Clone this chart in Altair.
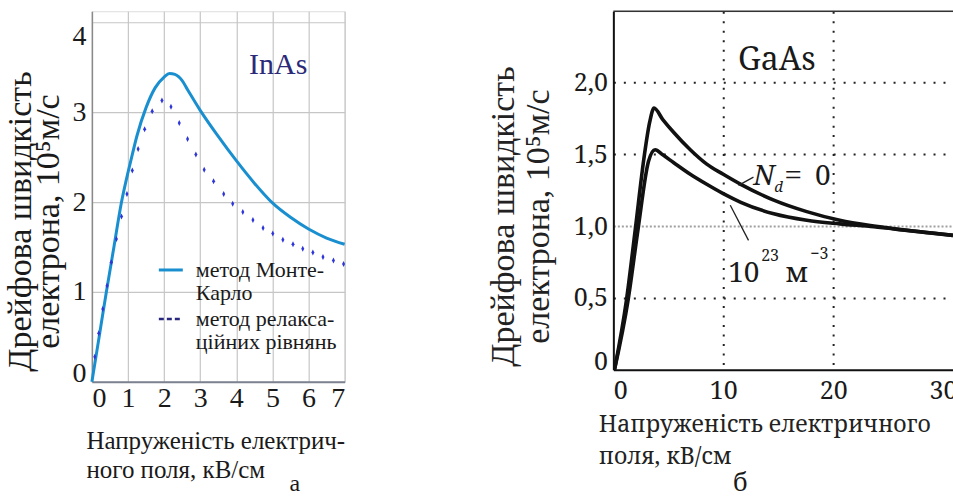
import altair as alt
import pandas as pd

# ---------------- data ----------------
# panel (а): InAs
mc_E = [0, 0.2, 0.4, 0.61, 0.82, 1.0, 1.09, 1.25, 1.5, 1.75, 2.0, 2.15, 2.3, 2.5,
        2.65, 3.0, 3.5, 4.0, 4.5, 5.0, 5.5, 6.0, 6.5, 7.0]
mc_v = [0, 0.5, 1.0, 1.5, 2.0, 2.33, 2.48, 2.74, 3.05, 3.27, 3.39, 3.43, 3.42, 3.35,
        3.25, 3.02, 2.73, 2.46, 2.21, 1.99, 1.83, 1.70, 1.60, 1.53]
rel_E = [0.08, 0.19, 0.30, 0.42, 0.54, 0.68, 0.82, 0.97, 1.12, 1.28, 1.46, 1.67, 1.94,
         2.19, 2.42, 2.65, 2.88, 3.11, 3.37, 3.65, 3.90, 4.18, 4.46, 4.74, 5.01, 5.29,
         5.57, 5.84, 6.12, 6.40, 6.69, 6.97]
rel_v = [0.28, 0.54, 0.81, 1.07, 1.33, 1.59, 1.84, 2.09, 2.35, 2.59, 2.81, 3.01, 3.13,
         3.06, 2.88, 2.70, 2.53, 2.36, 2.23, 2.09, 1.98, 1.89, 1.80, 1.71, 1.65, 1.58,
         1.53, 1.48, 1.44, 1.39, 1.35, 1.31]
left_xticks = [0, 1, 2, 3, 4, 5, 6, 7]
left_yticks = [0, 1, 2, 3, 4]
legend_mc = ["метод Монте-", "Карло"]
legend_rel = ["метод релакса-", "ційних рівнянь"]
left_xtitle = ["Напруженість електрич-", "ного поля, кВ/см"]
ytitle = ["Дрейфова швидкість", "електрона, 10⁵м/с"]
inas_label = ["InAs"]
inas_pos = [5.16, 3.42]

# panel (б): GaAs
up_E = [0.1, 1.2, 2.0, 2.8, 3.3, 3.7, 4.5, 5.5, 7.0, 8.5, 10.0, 11.6, 14.6, 17.6,
        20.6, 23.7, 26.7, 30.9]
up_v = [0, 0.49, 0.98, 1.48, 1.72, 1.82, 1.74, 1.65, 1.53, 1.43, 1.36, 1.29, 1.18,
        1.10, 1.04, 1.0, 0.97, 0.935]
lo_E = [0.1, 1.35, 2.25, 3.2, 3.8, 4.5, 5.5, 7.0, 8.5, 10.0, 11.6, 14.6, 17.6, 20.6,
        23.7, 26.7, 30.9]
lo_v = [0, 0.49, 0.98, 1.45, 1.53, 1.495, 1.44, 1.36, 1.29, 1.225, 1.165, 1.085, 1.04,
        1.015, 0.995, 0.97, 0.935]
right_xticks = [0, 10, 20, 30]
right_yticks = [0, 0.5, 1.0, 1.5, 2.0]
right_xtitle = ["Напруженість електричного", "поля, кВ/см"]
# annotation texts and anchor points (data units)
ann_text = ["GaAs", "N", "d", "=", "0", "10", "23", "м", "−3"]
ann_E = [14.88, 12.73, 14.65, 15.6, 18.36, 10.45, 13.45, 15.64, 17.91]
ann_v = [2.083, 1.285, 1.236, 1.285, 1.285, 0.611, 0.757, 0.611, 0.771]
# leader lines: (E, v) -> (E2, v2)
lead_E = [11.39, 10.64]
lead_v = [1.283, 1.144]
lead_E2 = [12.75, 12.3]
lead_v2 = [1.34, 0.90]
captions = ["а", "б"]

# ---------------- styling ----------------
SERIF = "Liberation Serif"
CENT = "Noto Serif"
W1, H1 = 253, 371
W2, H2 = 340, 359
BLUE = "#1a8fd0"
DOTS = "#2f36d8"
NAVY = "#28287e"
INK = "#1a1a1a"

# ---------------- panel а ----------------
lx_scale = alt.Scale(domain=[0, 7], nice=False, zero=False)
ly_scale = alt.Scale(domain=[0, H1 / 90.0], nice=False)

lx = alt.X("E:Q", scale=lx_scale, axis=alt.Axis(
    values=left_xticks, format="d", grid=True, gridColor="#c6c6c6", gridWidth=1.2,
    domainColor="#7d8290", domainWidth=2, ticks=False,
    labelFont=SERIF, labelFontSize=28, labelColor=INK, labelPadding=3, labelFlush=True,
    title=left_xtitle, titleFont=SERIF, titleFontSize=25, titleFontWeight="normal",
    titleColor=INK, titleX=-6, titleY=67, titleAlign="left", titleAnchor="start",
    titleBaseline="alphabetic", titleLineHeight=29))
ly = alt.Y("v:Q", scale=ly_scale, axis=alt.Axis(
    values=left_yticks, format="d", grid=True, gridColor="#c6c6c6", gridWidth=1.2,
    domainColor="#8a8a8a", domainWidth=1.5, ticks=False,
    labelFont=SERIF, labelFontSize=28, labelColor=INK, labelPadding=6,
    labelBaseline={"condition": [{"test": "datum.value == 4", "value": "top"},
                                 {"test": "datum.value == 0", "value": "alphabetic"}],
                   "value": "middle"},
    title=ytitle, titleFont=SERIF, titleFontSize=34, titleFontWeight="normal",
    titleColor=INK, titleAngle=270, titleX=-61, titleY=210, titleAlign="center",
    titleBaseline="alphabetic", titleLineHeight=28))

mc_df = pd.DataFrame({"E": mc_E, "v": mc_v})
rel_df = pd.DataFrame({"E": rel_E, "v": rel_v})

mc_line = alt.Chart(mc_df).mark_line(color=BLUE, strokeWidth=3, interpolate="monotone").encode(x=lx, y=ly)
rel_pts = alt.Chart(rel_df).mark_point(
    shape="M0,-1L0.5,0L0,1L-0.5,0Z", filled=True, size=36, color=DOTS, opacity=1
).encode(x=lx, y=ly)

inas = alt.Chart(pd.DataFrame({"E": [inas_pos[0]], "v": [inas_pos[1]], "t": inas_label})).mark_text(
    font=SERIF, fontSize=30, color="#2b2a78", align="center", baseline="alphabetic"
).encode(x=lx, y=ly, text="t:N")

leg_df = pd.DataFrame({"k": [0]})
leg_line1 = alt.Chart(leg_df).mark_rule(color=BLUE, strokeWidth=3).encode(
    x=alt.value(67), x2=alt.value(91), y=alt.value(259))
leg_line2 = alt.Chart(leg_df).mark_rule(color=NAVY, strokeWidth=2.5, strokeDash=[5, 3]).encode(
    x=alt.value(67), x2=alt.value(90), y=alt.value(308))
leg_txt1 = alt.Chart(leg_df).mark_text(
    font=SERIF, fontSize=22, color=INK, align="left", baseline="alphabetic", lineHeight=23
).encode(x=alt.value(104), y=alt.value(266), text=alt.value(legend_mc))
leg_txt2 = alt.Chart(leg_df).mark_text(
    font=SERIF, fontSize=22, color=INK, align="left", baseline="alphabetic", lineHeight=23
).encode(x=alt.value(104), y=alt.value(315), text=alt.value(legend_rel))
cap_a = alt.Chart(pd.DataFrame({"t": [captions[0]]})).mark_text(
    font=SERIF, fontSize=24, color=INK, align="center", baseline="alphabetic"
).encode(x=alt.value(203), y=alt.value(480), text="t:N")

left = alt.layer(mc_line, rel_pts, inas, leg_line1, leg_line2, leg_txt1, leg_txt2, cap_a).properties(
    width=W1, height=H1)

# ---------------- panel б ----------------
rx_scale = alt.Scale(domain=[0, W2 / 11.0], nice=False, zero=False)
ry_scale = alt.Scale(domain=[0, H2 / 144.0], nice=False)

rx = alt.X("E:Q", scale=rx_scale, axis=alt.Axis(
    values=right_xticks, format="d", grid=True, gridColor="#222", gridWidth=2, gridDash=[2, 7.5],
    gridOpacity={"condition": {"test": "datum.value == 10 || datum.value == 20", "value": 1}, "value": 0},
    domainColor="#111", domainWidth=2, ticks=False,
    labelFont=CENT, labelFontSize=25, labelColor=INK, labelPadding=9,
    title=right_xtitle, titleFont=CENT, titleFontSize=23, titleFontWeight="normal",
    titleColor="#222", titleX=-15, titleY=62, titleAlign="left", titleAnchor="start",
    titleBaseline="alphabetic", titleLineHeight=32))
ry = alt.Y("v:Q", scale=ry_scale, axis=alt.Axis(
    values=right_yticks, grid=True, gridWidth=2,
    gridColor={"condition": {"test": "datum.value == 1", "value": "#a0a0a0"}, "value": "#222"},
    gridDash={"condition": {"test": "datum.value == 1", "value": [2, 2]}, "value": [2, 8]},
    gridOpacity={"condition": {"test": "datum.value == 0", "value": 0}, "value": 1},
    domainColor="#111", domainWidth=2, ticks=False,
    labelExpr="datum.value == 0 ? '0' : replace(format(datum.value, '.1f'), '.', ',')",
    labelFont=CENT, labelFontSize=25, labelColor=INK, labelPadding=6,
    labelBaseline={"condition": {"test": "datum.value == 0", "value": "alphabetic"}, "value": "middle"},
    title=ytitle, titleFont=SERIF, titleFontSize=34, titleFontWeight="normal",
    titleColor="#222", titleAngle=270, titleX=-100, titleY=205, titleAlign="center",
    titleBaseline="alphabetic", titleLineHeight=35))

gaas_df = pd.concat([
    pd.DataFrame({"E": up_E, "v": up_v, "s": "Nd=0"}),
    pd.DataFrame({"E": lo_E, "v": lo_v, "s": "1e23"}),
])
curves = alt.Chart(gaas_df).mark_line(color="#111", strokeWidth=3.6, interpolate="monotone", clip=True).encode(
    x=rx, y=ry, detail="s:N")

top_border = alt.Chart(pd.DataFrame({"k": [0]})).mark_rule(color="#333", strokeWidth=1.5).encode(
    x=alt.value(0), x2=alt.value(W2), y=alt.value(0))

lead_df = pd.DataFrame({"E": lead_E, "v": lead_v, "E2": lead_E2, "v2": lead_v2})
leaders = alt.Chart(lead_df).mark_rule(color="#222", strokeWidth=1.3).encode(
    x=rx, y=ry, x2="E2:Q", y2="v2:Q")


def ann(i, font, size, align="left", style="normal"):
    d = pd.DataFrame({"E": [ann_E[i]], "v": [ann_v[i]], "t": [ann_text[i]]})
    return alt.Chart(d).mark_text(font=font, fontSize=size, fontStyle=style, color=INK,
                                  align=align, baseline="alphabetic").encode(x=rx, y=ry, text="t:N")


ann_layers = [
    ann(0, CENT, 32, align="center"),
    ann(1, CENT, 28, style="italic"),
    ann(2, CENT, 15, style="italic"),
    ann(3, SERIF, 30),
    ann(4, CENT, 28),
    ann(5, CENT, 28),
    ann(6, CENT, 16),
    ann(7, CENT, 28),
    ann(8, CENT, 16),
]
cap_b = alt.Chart(pd.DataFrame({"t": [captions[1]]})).mark_text(
    font=CENT, fontSize=25, color=INK, align="center", baseline="alphabetic"
).encode(x=alt.value(127), y=alt.value(480), text="t:N")

right = alt.layer(curves, top_border, leaders, *ann_layers, cap_b).properties(width=W2, height=H2)

chart = alt.hconcat(left, right, spacing=269, bounds="flush").properties(
    padding={"left": 3, "top": 9, "right": -5, "bottom": 0}
).configure_view(stroke=None).configure(background="white", font=SERIF)

chart.save("out.html", embed_options={"renderer": "svg", "actions": False})
